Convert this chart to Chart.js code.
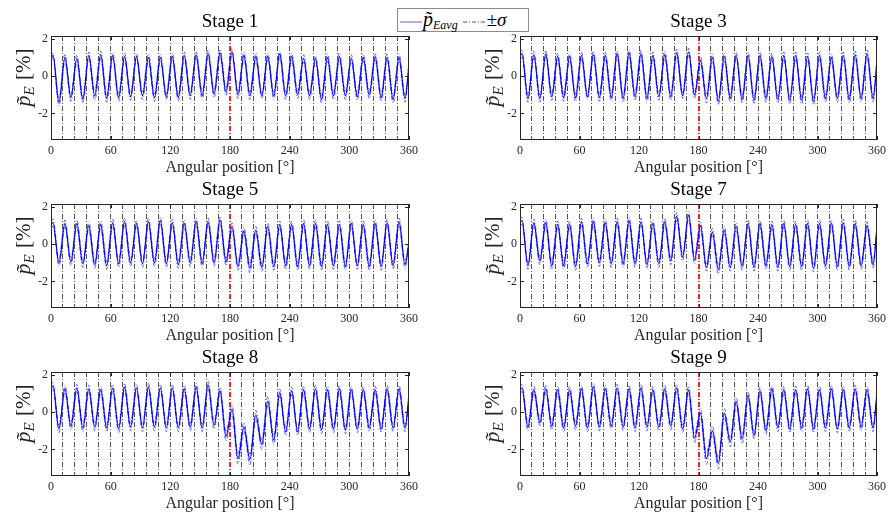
<!DOCTYPE html>
<html>
<head>
<meta charset="utf-8">
<script src="https://cdn.jsdelivr.net/npm/chart.js"></script>
<style>
  body { margin: 0; background: #fff; }
  #wrap { position: relative; width: 890px; height: 515px; overflow: hidden; }
  .cell { position: absolute; width: 445px; height: 179px; }
  #legend {
    position: absolute; left: 397px; top: 8px; width: 132px; height: 24px;
    box-sizing: border-box; border: 1px solid #8c8c8c; background: #fff;
    font-family: "Liberation Serif", serif; color: #000; white-space: nowrap;
    line-height: 20px; padding-left: 1px;
  }
  #legend svg { vertical-align: middle; }
  #legend .p { font-style: italic; font-size: 20px; }
  #legend sub { font-style: italic; font-size: 12px; vertical-align: -3px; }
  #legend .s { font-size: 19px; }
</style>
</head>
<body>
<div id="wrap">
  <div class="cell" style="left:0px;top:0px"><canvas id="c1" width="445" height="179"></canvas></div>
  <div class="cell" style="left:445px;top:0px"><canvas id="c3" width="445" height="179"></canvas></div>
  <div class="cell" style="left:0px;top:168px"><canvas id="c5" width="445" height="179"></canvas></div>
  <div class="cell" style="left:445px;top:168px"><canvas id="c7" width="445" height="179"></canvas></div>
  <div class="cell" style="left:0px;top:336px"><canvas id="c8" width="445" height="179"></canvas></div>
  <div class="cell" style="left:445px;top:336px"><canvas id="c9" width="445" height="179"></canvas></div>
  <div id="legend">
    <svg width="24" height="10"><line x1="1" y1="5" x2="23" y2="5" stroke="#8080ff" stroke-width="1.3"/></svg><span class="p">p&#771;</span><sub>Eavg</sub>
    <svg width="25" height="10"><line x1="1" y1="5" x2="25" y2="5" stroke="#8080ff" stroke-width="1.3" stroke-dasharray="4 2 1 2"/></svg><span class="s">&plusmn;<i>&sigma;</i></span>
  </div>
</div>
<script>
// angular positions of the samples: start, then peak / trough of every blade passage, end
const angles = [0,
  2, 8, 14, 20, 26, 32, 38, 44, 50, 56, 62, 68, 74, 80, 86, 92, 98, 104, 110, 116,
  122, 128, 134, 140, 146, 152, 158, 164, 170, 176, 182, 188, 194, 200, 206, 212, 218, 224, 230, 236,
  242, 248, 254, 260, 266, 272, 278, 284, 290, 296, 302, 308, 314, 320, 326, 332, 338, 344, 350, 356,
  360];

const stage1Avg = [0.95,
  1.1,-1.4, 1.0,-1.15, 0.95,-1.25, 1.1,-1.05, 1.15,-1.2,
  1.1,-1.15, 1.05,-1.1, 1.05,-1.05, 1.0,-1.15, 1.0,-1.1,
  1.05,-1.15, 1.1,-1.05, 1.15,-1.05, 1.2,-0.95, 1.25,-0.85,
  1.3,-1.0, 1.1,-1.05, 1.05,-1.05, 1.05,-1.05, 1.2,-1.05,
  1.05,-1.0, 0.95,-1.05, 0.95,-1.25, 1.0,-1.05, 1.05,-1.05,
  0.95,-1.1, 1.0,-1.0, 1.05,-1.15, 1.0,-1.25, 1.0,-1.2,
  0.6];
const stage1Sigma = [0.15,
  0.15,0.2, 0.2,0.2, 0.2,0.15, 0.2,0.25, 0.2,0.2,
  0.15,0.2, 0.2,0.2, 0.15,0.2, 0.2,0.2, 0.2,0.15,
  0.2,0.2, 0.2,0.2, 0.15,0.2, 0.2,0.2, 0.2,0.2,
  0.2,0.2, 0.2,0.2, 0.2,0.15, 0.2,0.2, 0.15,0.2,
  0.2,0.2, 0.2,0.2, 0.15,0.2, 0.2,0.2, 0.2,0.2,
  0.2,0.2, 0.2,0.2, 0.15,0.2, 0.2,0.2, 0.2,0.2,
  0.15];

const stage3Avg = [1.1,
  1.2,-1.2, 1.15,-1.2, 1.2,-1.1, 1.05,-1.15, 1.05,-1.15,
  1.1,-1.1, 1.15,-1.15, 1.1,-1.15, 1.2,-1.2, 1.25,-1.1,
  1.2,-1.2, 1.1,-1.1, 1.15,-1.1, 1.25,-1.05, 1.3,-1.0,
  0.85,-1.2, 1.0,-1.35, 1.05,-1.2, 1.1,-1.25, 1.1,-1.3,
  1.1,-1.2, 1.05,-1.25, 1.1,-1.3, 1.1,-1.3, 1.05,-1.35,
  1.1,-1.2, 1.0,-1.2, 1.1,-1.25, 1.15,-1.2, 1.2,-1.2,
  0.8];
const stage3Sigma = [0.15,
  0.2,0.2, 0.2,0.2, 0.15,0.2, 0.2,0.2, 0.2,0.2,
  0.2,0.15, 0.2,0.2, 0.2,0.2, 0.15,0.2, 0.2,0.2,
  0.2,0.2, 0.2,0.2, 0.2,0.2, 0.2,0.15, 0.2,0.2,
  0.2,0.25, 0.2,0.2, 0.2,0.2, 0.15,0.2, 0.2,0.2,
  0.2,0.2, 0.2,0.2, 0.2,0.2, 0.2,0.2, 0.2,0.2,
  0.2,0.2, 0.2,0.2, 0.2,0.2, 0.2,0.2, 0.2,0.2,
  0.15];

const stage5Avg = [1.1,
  1.15,-1.0, 1.1,-0.95, 1.1,-1.05, 1.0,-1.1, 1.05,-1.15,
  1.15,-1.05, 1.2,-1.0, 1.1,-1.05, 1.2,-1.0, 1.25,-1.05,
  1.15,-1.1, 1.1,-1.0, 1.2,-1.05, 1.2,-1.0, 1.3,-0.95,
  0.95,-1.2, 0.7,-1.3, 0.75,-1.25, 0.95,-1.2, 1.05,-1.15,
  1.05,-1.2, 1.1,-1.15, 1.1,-1.2, 1.05,-1.15, 1.05,-1.2,
  1.1,-1.15, 1.05,-1.2, 1.1,-1.2, 1.15,-1.15, 1.2,-1.1,
  0.1];
const stage5Sigma = [0.15,
  0.2,0.2, 0.2,0.2, 0.2,0.2, 0.2,0.2, 0.2,0.2,
  0.2,0.2, 0.2,0.2, 0.15,0.2, 0.2,0.2, 0.2,0.2,
  0.2,0.2, 0.2,0.2, 0.2,0.2, 0.2,0.2, 0.2,0.2,
  0.2,0.2, 0.2,0.25, 0.2,0.2, 0.2,0.2, 0.2,0.2,
  0.2,0.2, 0.2,0.2, 0.2,0.2, 0.2,0.2, 0.2,0.2,
  0.2,0.2, 0.2,0.2, 0.2,0.2, 0.2,0.2, 0.2,0.2,
  0.15];

const stage7Avg = [1.2,
  1.25,-1.15, 1.15,-0.9, 1.15,-1.15, 1.05,-1.15, 1.05,-1.2,
  1.2,-1.05, 1.2,-1.0, 1.15,-1.05, 1.2,-1.05, 1.25,-1.05,
  1.2,-1.1, 1.1,-1.05, 1.2,-0.9, 1.5,-0.7, 1.55,-0.85,
  1.0,-1.25, 0.65,-1.35, 0.75,-1.25, 0.95,-1.2, 1.1,-1.25,
  1.1,-1.15, 1.05,-1.25, 1.1,-1.2, 1.05,-1.2, 1.1,-1.3,
  1.1,-1.15, 1.1,-1.2, 1.15,-1.2, 1.1,-1.15, 1.0,-1.1,
  0.9];
const stage7Sigma = [0.15,
  0.2,0.2, 0.2,0.2, 0.2,0.2, 0.2,0.2, 0.2,0.2,
  0.2,0.2, 0.2,0.2, 0.2,0.2, 0.2,0.2, 0.2,0.2,
  0.2,0.2, 0.2,0.2, 0.2,0.2, 0.2,0.2, 0.2,0.2,
  0.2,0.2, 0.2,0.25, 0.2,0.2, 0.2,0.2, 0.2,0.2,
  0.2,0.2, 0.2,0.2, 0.2,0.2, 0.2,0.2, 0.2,0.2,
  0.2,0.2, 0.2,0.2, 0.2,0.2, 0.2,0.2, 0.2,0.2,
  0.15];

const stage8Avg = [1.3,
  1.4,-0.9, 1.25,-0.75, 1.3,-0.85, 1.25,-0.8, 1.2,-0.85,
  1.3,-0.9, 1.35,-0.8, 1.3,-0.85, 1.35,-0.8, 1.3,-0.85,
  1.3,-0.85, 1.25,-0.8, 1.35,-0.85, 1.45,-0.7, 1.15,-1.3,
  0.15,-2.5, -0.8,-2.55, -0.15,-1.75, 0.6,-1.5, 1.05,-1.05,
  1.15,-1.05, 1.2,-0.9, 1.25,-0.95, 1.2,-0.9, 1.25,-0.95,
  1.2,-0.9, 1.2,-0.85, 1.2,-0.9, 1.25,-0.85, 1.25,-0.85,
  0.9];
const stage8Sigma = [0.15,
  0.2,0.2, 0.2,0.2, 0.2,0.2, 0.2,0.2, 0.2,0.2,
  0.2,0.2, 0.2,0.2, 0.2,0.2, 0.2,0.2, 0.2,0.2,
  0.2,0.2, 0.2,0.2, 0.2,0.2, 0.2,0.2, 0.2,0.25,
  0.25,0.3, 0.25,0.3, 0.25,0.25, 0.25,0.25, 0.2,0.2,
  0.2,0.2, 0.2,0.2, 0.2,0.2, 0.2,0.2, 0.2,0.2,
  0.2,0.2, 0.2,0.2, 0.2,0.2, 0.2,0.2, 0.2,0.2,
  0.15];

const stage9Avg = [1.2,
  1.3,-0.8, 1.2,-0.55, 1.25,-0.75, 1.2,-0.85, 1.2,-0.75,
  1.25,-0.85, 1.35,-0.8, 1.25,-0.75, 1.3,-0.8, 1.25,-0.85,
  1.3,-0.8, 1.2,-0.8, 1.25,-0.75, 1.3,-0.9, 1.2,-1.4,
  -0.05,-2.5, -1.0,-2.75, -0.05,-1.6, 0.55,-1.45, 0.9,-1.25,
  1.15,-1.0, 1.25,-0.85, 1.2,-0.9, 1.2,-0.85, 1.25,-0.9,
  1.2,-0.85, 1.25,-0.9, 1.2,-0.85, 1.25,-0.8, 1.2,-0.85,
  1.0];
const stage9Sigma = [0.15,
  0.2,0.2, 0.2,0.2, 0.2,0.2, 0.2,0.2, 0.2,0.2,
  0.2,0.2, 0.2,0.2, 0.2,0.2, 0.2,0.2, 0.2,0.2,
  0.2,0.2, 0.2,0.2, 0.2,0.2, 0.2,0.2, 0.2,0.25,
  0.25,0.3, 0.25,0.3, 0.25,0.25, 0.25,0.25, 0.2,0.2,
  0.2,0.2, 0.2,0.2, 0.2,0.2, 0.2,0.2, 0.2,0.2,
  0.2,0.2, 0.2,0.2, 0.2,0.2, 0.2,0.2, 0.2,0.2,
  0.15];

const xTickLabels = [0, 60, 120, 180, 240, 300, 360];
const yTickValues = [-2, 0, 2];
const passageStep = 12;     // one dash-dot line per blade passage
const markAngle = 180;      // red line

const serif = '"Liberation Serif", "Times New Roman", serif';

const panelText = {
  id: 'panelText',
  afterDraw(chart, args, opts) {
    const {ctx, chartArea: a, scales} = chart;
    const cx = (a.left + a.right) / 2;
    ctx.save();
    // axes box
    ctx.strokeStyle = '#262626';
    ctx.lineWidth = 1;
    ctx.strokeRect(Math.round(a.left) + 0.5, Math.round(a.top) + 0.5,
                   Math.round(a.right - a.left) - 1, Math.round(a.bottom - a.top) - 1);
    // inward ticks
    ctx.beginPath();
    yTickValues.forEach(v => {
      const y = Math.round(scales.y.getPixelForValue(v)) + 0.5;
      ctx.moveTo(a.left, y); ctx.lineTo(a.left + 4, y);
      ctx.moveTo(a.right, y); ctx.lineTo(a.right - 4, y);
    });
    xTickLabels.forEach(v => {
      const x = Math.round(scales.x.getPixelForValue(v)) + 0.5;
      ctx.moveTo(x, a.bottom); ctx.lineTo(x, a.bottom - 4);
      ctx.moveTo(x, a.top); ctx.lineTo(x, a.top + 4);
    });
    ctx.stroke();

    ctx.fillStyle = '#000';
    ctx.textAlign = 'center';
    ctx.textBaseline = 'alphabetic';
    ctx.font = '19px ' + serif;
    ctx.fillText(opts.title, cx, a.top - 9);
    ctx.fillStyle = '#262626';
    ctx.font = '16px ' + serif;
    ctx.fillText('Angular position [\u00b0]', cx, a.bottom + 32);

    // y label: p~_E [%]
    ctx.translate(a.left - 21, a.top + 42);
    ctx.rotate(-Math.PI / 2);
    ctx.textAlign = 'left';
    const big = 'italic 22px ' + serif, sub = 'italic 15px ' + serif, reg = '21px ' + serif;
    ctx.font = big; const w1 = ctx.measureText('p').width;
    ctx.font = sub; const w2 = ctx.measureText('E').width;
    ctx.font = reg; const w3 = ctx.measureText(' [%]').width;
    let sx = -(w1 + w2 + w3) / 2;
    ctx.font = big; ctx.fillText('p\u0303', sx, 0); sx += w1;
    ctx.font = sub; ctx.fillText('E', sx, 4); sx += w2 + 1;
    ctx.font = reg; ctx.fillText(' [%]', sx, 0);
    ctx.restore();
  }
};

function makePanel(id, title, avg, sigma, padLeft, padRight) {
  const pts = arr => angles.map((a, i) => ({x: a, y: arr[i]}));
  const upper = avg.map((v, i) => v + sigma[i]);
  const lower = avg.map((v, i) => v - sigma[i]);
  const common = {pointRadius: 0, borderWidth: 1, cubicInterpolationMode: 'monotone', fill: false};
  new Chart(document.getElementById(id), {
    type: 'line',
    data: {
      datasets: [
        Object.assign({label: 'avg', data: pts(avg), borderColor: 'rgb(0,0,255)'}, common, {borderWidth: 1.2}),
        Object.assign({label: '+sigma', data: pts(upper), borderColor: 'rgba(40,40,255,0.75)', borderDash: [4, 2, 1, 2]}, common),
        Object.assign({label: '-sigma', data: pts(lower), borderColor: 'rgba(40,40,255,0.75)', borderDash: [4, 2, 1, 2]}, common)
      ]
    },
    options: {
      responsive: false,
      animation: false,
      layout: {padding: {left: padLeft, right: padRight, top: 36, bottom: 0}},
      plugins: {legend: {display: false}, tooltip: {enabled: false}, panelText: {title: title}},
      scales: {
        x: {
          type: 'linear', min: 0, max: 360, z: 1,
          afterFit: s => { s.height = 39; },
          ticks: {
            stepSize: passageStep, autoSkip: false, maxRotation: 0, padding: 4,
            color: '#262626', font: {family: serif, size: 12},
            callback: v => xTickLabels.includes(v) ? String(v) : ''
          },
          grid: {
            drawTicks: false,
            color: c => (c.tick && c.tick.value === markAngle) ? 'rgba(235,25,25,0.95)'
                       : (c.tick && (c.tick.value === 0 || c.tick.value === 360)) ? 'rgba(0,0,0,0)' : 'rgba(0,0,0,0.85)',
            lineWidth: c => (c.tick && c.tick.value === markAngle) ? 2 : 0.8
          },
          border: {display: false, dash: [5, 2, 1, 2]}
        },
        y: {
          min: -3.43, max: 2.16,
          afterFit: s => { s.width = 51; },
          afterBuildTicks: s => { s.ticks = yTickValues.map(v => ({value: v})); },
          ticks: {padding: 3, color: '#262626', font: {family: serif, size: 12}},
          grid: {display: false, drawTicks: false},
          border: {display: false}
        }
      }
    },
    plugins: [panelText]
  });
}

makePanel('c1', 'Stage 1', stage1Avg, stage1Sigma, 0, 36);
makePanel('c3', 'Stage 3', stage3Avg, stage3Sigma, 24, 12);
makePanel('c5', 'Stage 5', stage5Avg, stage5Sigma, 0, 36);
makePanel('c7', 'Stage 7', stage7Avg, stage7Sigma, 24, 12);
makePanel('c8', 'Stage 8', stage8Avg, stage8Sigma, 0, 36);
makePanel('c9', 'Stage 9', stage9Avg, stage9Sigma, 24, 12);
</script>
</body>
</html>
